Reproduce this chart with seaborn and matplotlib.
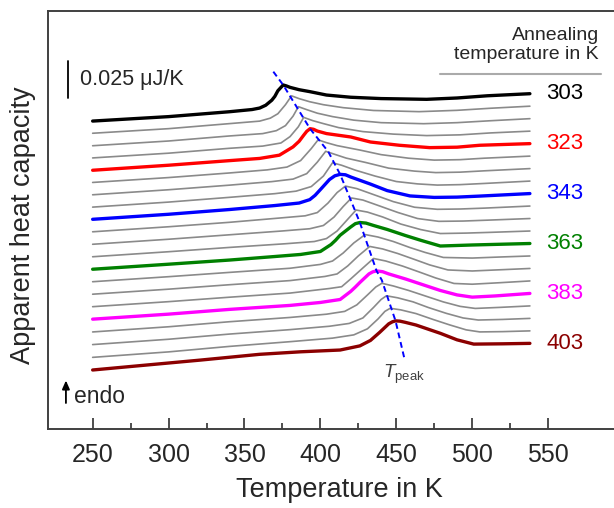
import matplotlib
matplotlib.use("Agg")
import matplotlib.pyplot as plt
from matplotlib.ticker import FixedLocator
import numpy as np
import pandas as pd
import seaborn as sns

# annealing temperatures (K), one DSC curve each, top to bottom
anneal_temps = [303, 308, 313, 318, 323, 328, 333, 338, 343, 348, 353,
                358, 363, 368, 373, 378, 383, 388, 393, 398, 403]
highlight_colors = {303: "black", 323: "#ff0000", 343: "#0000ff",
                    363: "#008000", 383: "#ff00ff", 403: "#8b0000"}

# apparent heat capacity in nJ/K, relative to each curve's value at 538 K
curve_T = {
    303: [250, 300, 340, 355, 360, 364, 368, 370, 372, 375.5, 377.5, 380, 386, 393, 404, 420, 440, 470, 490, 510, 538],
    308: [250, 300, 340, 360, 367, 372, 377, 381, 386, 393, 402, 415, 435, 465, 490, 512, 538],
    313: [250, 300, 340, 362, 371, 377, 382, 385.5, 391, 398, 408, 422, 440, 468, 490, 512, 538],
    318: [250, 300, 340, 362, 374, 380, 385.5, 389, 395, 402, 412, 428, 448, 470, 492, 512, 538],
    323: [250, 300, 340, 360, 373, 382, 386, 389, 391, 393.2, 395.5, 398, 404, 420, 433, 452, 472, 490, 505, 538],
    328: [250, 300, 340, 365, 378, 387, 394, 398.5, 404, 411, 426, 440, 458, 475, 492, 508, 538],
    333: [250, 300, 340, 368, 382, 391, 398, 403.5, 409, 417, 430, 445, 462, 476, 492, 508, 538],
    338: [250, 300, 340, 370, 384, 394, 402, 408, 414, 423, 436, 450, 464, 477, 492, 508, 538],
    343: [250, 300, 340, 370, 386, 393, 396.5, 400, 406, 409.5, 413, 416.5, 420, 433, 444, 459, 475, 490, 505, 538],
    348: [250, 300, 340, 372, 390, 398, 405, 411, 416.5, 424, 436, 448, 462, 477, 492, 508, 538],
    353: [250, 300, 340, 375, 393, 402, 409, 415, 420.5, 428, 439, 451, 464, 478, 494, 510, 538],
    358: [250, 300, 340, 377, 396, 404, 411, 417, 423.5, 431, 441, 453, 466, 479, 496, 512, 538],
    363: [250, 300, 340, 370, 387, 400, 407, 410, 413, 420, 423, 426, 430, 435, 444, 456, 466, 479, 500, 538],
    368: [250, 300, 340, 380, 400, 408, 415, 422, 429.5, 438, 448, 459, 469, 481, 500, 518, 538],
    373: [250, 300, 340, 380, 403, 411, 418, 425, 432.5, 441, 451, 462, 472, 484, 500, 518, 538],
    378: [250, 300, 340, 380, 406, 414, 420, 428, 435, 443, 454, 465, 476, 488, 500, 518, 538],
    383: [250, 300, 340, 380, 400, 413, 420, 423, 426, 432, 434.5, 437, 441, 445, 456, 466, 479, 490, 500, 515, 538],
    388: [250, 300, 340, 380, 404, 416, 424, 431, 436.5, 440.5, 448, 458, 468, 481, 492, 502, 518, 538],
    393: [250, 300, 340, 380, 406, 419, 428, 435, 440, 443.5, 451, 461, 471, 483, 494, 504, 520, 538],
    398: [250, 300, 340, 380, 408, 422, 431, 438, 442.5, 446, 453, 463, 474, 485, 496, 505, 520, 538],
    403: [250, 321, 360, 387, 413, 426, 433, 439, 445, 447.5, 449.5, 452.5, 456, 463, 479, 490, 501, 520, 538],
}
curve_cp = {
    303: [-18.5, -15.5, -12.2, -10.7, -9.7, -7.8, -4.4, -1.8, 2.0, 5.9, 5.3, 4.3, 2.7, 1.4, -0.9, -2.4, -3.3, -3.8, -2.9, -1.4, 0],
    308: [-18.3, -15.2, -11.8, -10.1, -8.1, -5.1, 1.0, 7.0, 5.1, 3.0, 1.0, -1.0, -2.9, -3.7, -2.8, -1.4, 0],
    313: [-18.3, -15.1, -11.7, -10.1, -8.1, -4.7, 1.7, 8.1, 6.1, 3.7, 1.4, -1.0, -2.7, -3.4, -2.7, -1.4, 0],
    318: [-18.1, -14.9, -11.6, -10.1, -8.0, -3.7, 3.0, 9.3, 7.1, 5.1, 2.4, -0.3, -2.0, -3.0, -2.5, -1.2, 0],
    323: [-18.0, -14.6, -11.5, -10.0, -7.8, -2.2, 1.6, 5.7, 8.3, 10.1, 9.7, 8.5, 6.8, 4.5, 1.1, -1.1, -2.7, -2.4, -1.1, 0],
    328: [-17.8, -14.5, -11.4, -9.3, -7.4, -3.0, 5.1, 11.0, 9.1, 7.1, 4.1, 1.0, -1.4, -2.7, -2.4, -1.4, 0],
    333: [-17.7, -14.3, -11.2, -8.8, -7.1, -3.4, 4.4, 11.7, 9.8, 7.1, 4.1, 0.3, -1.7, -2.7, -2.4, -1.5, 0],
    338: [-17.6, -14.2, -11.0, -8.5, -6.8, -3.7, 3.4, 12.4, 10.7, 7.4, 3.4, -0.3, -1.9, -2.7, -2.4, -1.6, 0],
    343: [-17.4, -14.0, -10.8, -8.1, -6.4, -4.1, -1.2, 2.7, 9.5, 12.0, 13.0, 12.7, 11.2, 6.4, 2.0, -1.6, -2.6, -2.4, -1.7, 0],
    348: [-17.4, -14.0, -11.0, -8.2, -6.6, -4.4, 2.0, 9.1, 13.5, 11.8, 7.4, 3.0, -0.8, -2.2, -2.0, -1.4, 0],
    353: [-17.4, -14.0, -11.0, -8.4, -6.9, -4.7, 1.0, 8.1, 13.9, 12.5, 8.5, 4.1, 0.0, -1.9, -1.7, -1.1, 0],
    358: [-17.4, -14.0, -11.1, -8.6, -7.1, -5.1, 0.0, 6.8, 14.2, 12.8, 9.5, 4.7, 1.0, -1.7, -1.4, -0.9, 0],
    363: [-17.4, -14.0, -11.2, -8.8, -7.4, -5.4, -0.7, 2.2, 5.6, 11.2, 13.4, 14.2, 13.8, 12.2, 9.5, 5.4, 2.2, -1.7, -1.0, 0],
    368: [-17.4, -14.0, -11.1, -8.3, -5.7, -3.4, 2.0, 8.8, 14.5, 12.8, 9.8, 5.7, 2.4, -1.0, -1.4, -0.7, 0],
    373: [-17.4, -14.0, -11.0, -8.2, -5.4, -3.7, 1.7, 8.5, 14.9, 13.2, 10.1, 6.1, 2.4, -1.0, -1.7, -0.9, 0],
    378: [-17.4, -14.0, -11.0, -8.2, -5.1, -3.9, 1.4, 8.8, 15.2, 13.5, 10.1, 6.1, 2.0, -1.7, -2.2, -1.2, 0],
    383: [-17.4, -14.0, -10.8, -8.1, -6.1, -4.1, 1.4, 4.3, 7.4, 13.2, 14.6, 15.2, 14.7, 13.2, 9.8, 6.4, 2.0, -1.0, -2.5, -1.7, 0],
    388: [-17.6, -14.1, -10.7, -7.8, -5.6, -3.7, 0.7, 7.4, 12.8, 15.3, 13.5, 10.5, 7.1, 2.7, -0.3, -1.7, -1.0, 0],
    393: [-17.7, -14.1, -10.6, -7.6, -5.3, -3.4, 0.3, 7.4, 12.8, 15.3, 13.9, 11.2, 7.4, 3.4, 0.3, -1.1, -0.7, 0],
    398: [-17.9, -14.2, -10.5, -7.3, -4.9, -2.7, 1.4, 8.1, 13.2, 15.3, 14.2, 11.7, 7.8, 4.1, 0.7, -0.7, -0.5, 0],
    403: [-18.0, -11.3, -7.4, -5.7, -4.5, -1.7, 2.0, 7.4, 13.2, 14.6, 15.2, 15.0, 14.2, 12.4, 6.8, 2.4, -0.5, -0.3, 0],
}

# T_peak trend line (K, stacked nJ/K)
tpeak_T = [369.0, 375.5, 393.2, 405.2, 413, 419.5, 426, 437, 440.4, 449.5, 455.3]
tpeak_cp = [14.9, 5.9, -23.7, -39.2, -54.5, -70.7, -87.1, -119.8, -125.9, -153.6, -178.9]

x_ticks = [250, 300, 350, 400, 450, 500, 550]
x_minor = [275, 325, 375, 425, 475, 525]

step = 8.44  # vertical shift between curves, nJ/K

rows = []
for i, ta in enumerate(anneal_temps):
    for t, cp in zip(curve_T[ta], curve_cp[ta]):
        rows.append({"T": t, "cp": cp - i * step, "anneal": ta})
df = pd.DataFrame(rows)

sns.set_style("ticks")
plt.rcParams["font.family"] = ["Liberation Sans", "DejaVu Sans"]
plt.rcParams["mathtext.fontset"] = "custom"
plt.rcParams["mathtext.rm"] = "Liberation Sans"
plt.rcParams["mathtext.it"] = "Liberation Sans:italic"

fig = plt.figure(figsize=(6.14, 5.08), dpi=100)
ax = fig.add_axes([0.0782, 0.1555, 0.9505, 0.8228])

for ta in anneal_temps:
    if ta in highlight_colors:
        continue
    sns.lineplot(data=df[df["anneal"] == ta], x="T", y="cp", ax=ax, color="#8a8a8a",
                 lw=1.2, sort=False, estimator=None, zorder=2,
                 solid_joinstyle="round")
for ta, c in highlight_colors.items():
    sub = df[df["anneal"] == ta]
    sns.lineplot(data=sub, x="T", y="cp", ax=ax, color=c, lw=2.4,
                 sort=False, estimator=None, zorder=3, solid_joinstyle="round")
    ax.text(549, sub["cp"].iloc[-1], str(ta), color=c, fontsize=16,
            ha="left", va="center")

ax.plot(tpeak_T, tpeak_cp, color="#0000ff", lw=1.4, ls=(0, (3, 2)), zorder=4)
ax.text(441.4, -192.0, r"$T_{\mathrm{peak}}$", color="#404040", fontsize=13.5,
        ha="left", va="baseline")

# scale bar
ax.plot([233.7, 233.7], [-3.2, 21.8], color="black", lw=1.3)
ax.text(241.6, 9.3, "0.025 μJ/K", fontsize=15.5, ha="left", va="center")

# endo arrow
ax.annotate("", xy=(232.4, -192.0), xytext=(232.4, -211.0),
            arrowprops=dict(arrowstyle="-|>,head_length=0.5,head_width=0.22",
                            color="black", lw=1.3))
ax.text(238.0, -208.9, "endo", fontsize=16.5, ha="left", va="baseline")

ax.text(583.5, 32.9, "Annealing\ntemperature in K", fontsize=14,
        ha="right", va="center", multialignment="right", linespacing=1.2)
ax.plot([478.8, 584.9], [13.3, 13.3], color="#aaaaaa", lw=1.5)

ax.set_xlim(220.6, 605)
ax.set_ylim(-226.7, 55.9)
ax.set_xticks(x_ticks)
ax.xaxis.set_minor_locator(FixedLocator(x_minor))
ax.set_yticks([])
ax.tick_params(axis="x", which="major", direction="in", length=8, width=1.3,
               pad=10, labelsize=18, color="#404040")
ax.tick_params(axis="x", which="minor", direction="in", length=4.5, width=1.3,
               color="#404040")
for side in ["left", "top", "bottom"]:
    ax.spines[side].set_color("#404040")
    ax.spines[side].set_linewidth(1.4)
ax.spines["right"].set_visible(False)

ax.set_xlabel("Temperature in K", fontsize=19.5, labelpad=7)
ax.set_ylabel("Apparent heat capacity", fontsize=19.5)
ax.yaxis.set_label_coords(-0.02, 0.488)

fig.savefig("out.png", dpi=100)
